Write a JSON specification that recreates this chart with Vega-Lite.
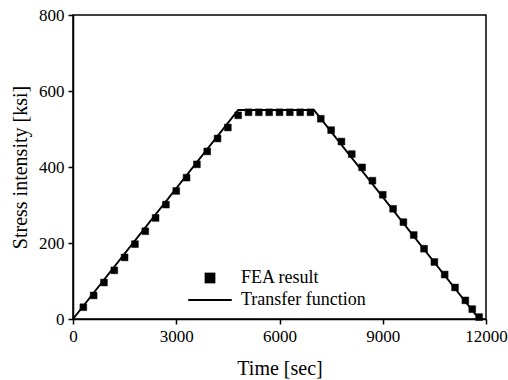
{
  "$schema": "https://vega.github.io/schema/vega-lite/v6.json",
  "autosize": {"type": "none"},
  "padding": {"left": 73, "top": 15, "right": 22, "bottom": 61},
  "width": 413,
  "height": 304,
  "background": "white",
  "config": {
    "font": "Liberation Serif",
    "view": {"stroke": "black", "strokeWidth": 1.5},
    "axis": {
      "grid": false,
      "domainColor": "black",
      "domainWidth": 1.5,
      "tickColor": "black",
      "tickWidth": 1.5,
      "tickSize": 5,
      "labelColor": "black",
      "labelFont": "Liberation Serif",
      "labelFontSize": 17,
      "titleColor": "black",
      "titleFont": "Liberation Serif",
      "titleFontSize": 20,
      "titleFontWeight": "normal"
    }
  },
  "datasets": {
    "fn": [
      {"time": 0, "stress": 0},
      {"time": 4800, "stress": 550},
      {"time": 7000, "stress": 550},
      {"time": 11800, "stress": 0}
    ],
    "fea": [
      {"time": 300, "stress": 31, "series": "FEA result"},
      {"time": 600, "stress": 62, "series": "FEA result"},
      {"time": 900, "stress": 96, "series": "FEA result"},
      {"time": 1200, "stress": 128, "series": "FEA result"},
      {"time": 1500, "stress": 162, "series": "FEA result"},
      {"time": 1800, "stress": 197, "series": "FEA result"},
      {"time": 2100, "stress": 231, "series": "FEA result"},
      {"time": 2400, "stress": 266, "series": "FEA result"},
      {"time": 2700, "stress": 301, "series": "FEA result"},
      {"time": 3000, "stress": 337, "series": "FEA result"},
      {"time": 3300, "stress": 372, "series": "FEA result"},
      {"time": 3600, "stress": 407, "series": "FEA result"},
      {"time": 3900, "stress": 441, "series": "FEA result"},
      {"time": 4200, "stress": 475, "series": "FEA result"},
      {"time": 4500, "stress": 504, "series": "FEA result"},
      {"time": 4800, "stress": 536, "series": "FEA result"},
      {"time": 5100, "stress": 544, "series": "FEA result"},
      {"time": 5400, "stress": 544, "series": "FEA result"},
      {"time": 5700, "stress": 544, "series": "FEA result"},
      {"time": 6000, "stress": 544, "series": "FEA result"},
      {"time": 6300, "stress": 544, "series": "FEA result"},
      {"time": 6600, "stress": 544, "series": "FEA result"},
      {"time": 6900, "stress": 544, "series": "FEA result"},
      {"time": 7200, "stress": 527, "series": "FEA result"},
      {"time": 7500, "stress": 497, "series": "FEA result"},
      {"time": 7800, "stress": 467, "series": "FEA result"},
      {"time": 8100, "stress": 434, "series": "FEA result"},
      {"time": 8400, "stress": 399, "series": "FEA result"},
      {"time": 8700, "stress": 364, "series": "FEA result"},
      {"time": 9000, "stress": 327, "series": "FEA result"},
      {"time": 9300, "stress": 290, "series": "FEA result"},
      {"time": 9600, "stress": 255, "series": "FEA result"},
      {"time": 9900, "stress": 221, "series": "FEA result"},
      {"time": 10200, "stress": 185, "series": "FEA result"},
      {"time": 10500, "stress": 150, "series": "FEA result"},
      {"time": 10800, "stress": 117, "series": "FEA result"},
      {"time": 11100, "stress": 83, "series": "FEA result"},
      {"time": 11400, "stress": 49, "series": "FEA result"},
      {"time": 11600, "stress": 26, "series": "FEA result"},
      {"time": 11800, "stress": 5, "series": "FEA result"}
    ]
  },
  "layer": [
    {
      "data": {"name": "fn"},
      "mark": {"type": "line", "color": "black", "strokeWidth": 2},
      "encoding": {
        "x": {
          "field": "time", "type": "quantitative",
          "scale": {"domain": [0, 12000], "nice": false},
          "axis": {"values": [0, 3000, 6000, 9000, 12000], "format": "d", "title": "Time [sec]", "labelFont": "Liberation Serif", "labelFontSize": 17, "labelPadding": 4, "titlePadding": 14, "labelFlush": false, "labelOverlap": false}
        },
        "y": {
          "field": "stress", "type": "quantitative",
          "scale": {"domain": [0, 800], "nice": false},
          "axis": {"values": [0, 200, 400, 600, 800], "format": "d", "title": "Stress intensity [ksi]", "labelFont": "Liberation Serif", "labelFontSize": 17, "labelPadding": 4, "titlePadding": 8, "labelFlush": false}
        }
      }
    },
    {
      "data": {"name": "fea"},
      "mark": {"type": "point", "filled": true, "fill": "black", "stroke": "black", "strokeWidth": 0.5, "opacity": 1, "fillOpacity": 1, "strokeOpacity": 1, "size": 250},
      "encoding": {
        "x": {"field": "time", "type": "quantitative"},
        "y": {"field": "stress", "type": "quantitative"},
        "shape": {
          "field": "series", "type": "nominal",
          "scale": {
            "domain": ["FEA result", "Transfer function"],
            "range": ["M-0.43,-0.43H0.43V0.43H-0.43Z", "M-1.74,-0.08H1.74V0.08H-1.74Z"]
          },
          "legend": {
            "title": null,
            "orient": "none",
            "legendX": 124.5,
            "legendY": 250.5,
            "padding": 0,
            "symbolSize": 625,
            "symbolFillColor": "black",
            "symbolStrokeColor": "black",
            "symbolStrokeWidth": 0,
            "symbolOpacity": 1,
            "labelFont": "Liberation Serif",
            "labelFontSize": 18,
            "labelColor": "black",
            "labelOffset": 18.5,
            "rowPadding": 0
          }
        }
      }
    }
  ]
}
